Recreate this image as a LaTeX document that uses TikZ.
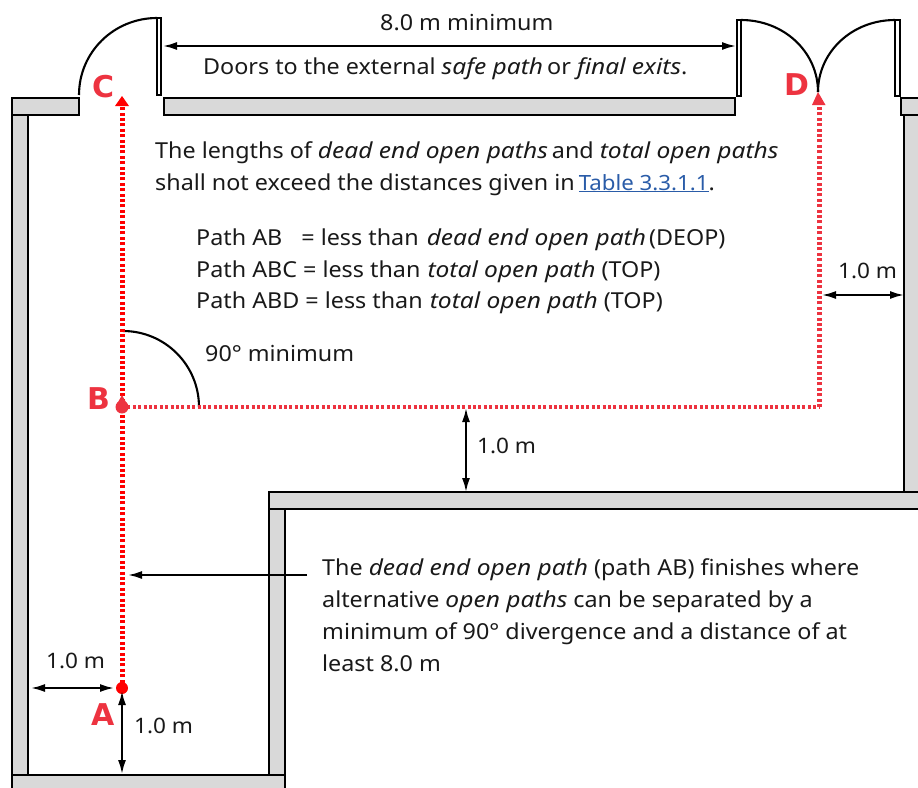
\documentclass[tikz,border=0pt]{standalone}
\usepackage{fontspec}
\setmainfont{Noto Sans}[FakeStretch=1.06,ItalicFeatures={FakeStretch=1.115}]
\newfontfamily\letterfont{DejaVu Sans Bold}
\usetikzlibrary{arrows.meta}
\definecolor{wallgrey}{HTML}{D9D9D9}
\definecolor{pathred}{HTML}{FF0000}
\definecolor{pathrose}{HTML}{ED3340}
\definecolor{linkblue}{HTML}{2A5CA8}
\tikzset{
  wall/.style={draw=black,fill=wallgrey,line width=2.8pt,line join=miter},
  doorleaf/.style={draw=black,fill=white,line width=1.8pt},
  swing/.style={draw=black,line width=2.1pt},
  dim/.style={draw=black,line width=2pt,{Latex[length=14pt,width=8pt]}-{Latex[length=14pt,width=8pt]}},
  lead/.style={draw=black,line width=2pt,-{Latex[length=14pt,width=8pt]}},
  walkv/.style={line width=5pt,dash pattern=on 3pt off 2.4pt},
  walkh/.style={line width=4.6pt,dash pattern=on 3pt off 2.4pt},
  txt/.style={anchor=base west,inner sep=0pt,font=\fontsize{22}{26}\selectfont,text=black!90},
  dimtxt/.style={txt,font=\fontsize{21.3}{26}\selectfont},
  letter/.style={anchor=base west,inner sep=0pt,font=\letterfont\fontsize{30}{34}\selectfont,text=pathrose}
}
\begin{document}
\begin{tikzpicture}[x=1pt,y=-1pt]
\useasboundingbox (0,0) rectangle (918,787);
% walls
\draw[wall] (12,115) rectangle (28,775);
\draw[wall] (12,98) rectangle (79,115);
\draw[wall] (164,98) rectangle (735,115);
\draw[wall] (269,509) rectangle (285,775);
\draw[wall] (269,492) rectangle (930,509);
\draw[wall] (904,115) rectangle (930,492);
\draw[wall] (901,98) rectangle (930,115);
\draw[wall] (12,775) rectangle (285,800);
% doors
\draw[doorleaf] (157,18) rectangle (161,95);
\draw[doorleaf] (737,20) rectangle (741,96);
\draw[doorleaf] (895,20) rectangle (900,96);
\coordinate (cL) at (79,95);
\coordinate (cT) at (157,18);
\coordinate (dL) at (741,20);
\coordinate (dM) at (818,92);
\coordinate (dR) at (895,20);
\draw[swing] (cL) .. controls (79,52) and (114,18) .. (cT);
\draw[swing] (dL) .. controls (784,20) and (818,52) .. (dM);
\draw[swing] (dR) .. controls (852,20) and (818,52) .. (dM);
% path points
\coordinate (A) at (122,688);
\coordinate (B) at (122,407);
\coordinate (C) at (122,96);
\coordinate (E) at (820,407);
\coordinate (F) at (819,407);
\coordinate (D) at (818,92);
\coordinate (Cs) at (122,107);
\coordinate (Ds) at (819,104);
% angle arc
\coordinate (q1) at (123,331);
\coordinate (q2) at (199,407);
\draw[swing] (q1) .. controls (165,331) and (199,365) .. (q2);
% walking paths
\draw[walkv,draw=pathred] (A) -- (Cs);
\draw[walkh,draw=pathrose] (B) -- (E);
\draw[walkv,draw=pathrose] (F) -- (Ds);
\fill[pathred] (C) -- (129,106) -- (115,106) -- cycle;
\fill[pathrose] (D) -- (825.5,105) -- (812,105) -- cycle;
\fill[pathred] (A) circle (6);
\fill[pathrose] (B) circle (6.5);
\fill[pathrose] (B) ++(-5,-3) -- ++(5,-9) -- ++(5,9) -- cycle;
% dimensions
\coordinate (t1) at (163,46); \coordinate (t2) at (736,46);
\coordinate (r1) at (822,295); \coordinate (r2) at (904,295);
\coordinate (m1) at (466,408); \coordinate (m2) at (466,492);
\coordinate (l1) at (31,688); \coordinate (l2) at (114,688);
\coordinate (v1) at (122,691); \coordinate (v2) at (122,774);
\coordinate (n1) at (307,575); \coordinate (n2) at (128,575);
\draw[dim] (t1) -- (t2);
\draw[dim] (r1) -- (r2);
\draw[dim] (m1) -- (m2);
\draw[dim] (l1) -- (l2);
\draw[dim] (v1) -- (v2);
\draw[lead] (n1) -- (n2);
% letters
\node[letter] (lc) at (92,97) {C};
\node[letter] (ld) at (784,95) {D};
\node[letter] (lb) at (87,409) {B};
\node[letter] (la) at (91,725) {A};
% texts
\node[txt] (t01) at (380,30) {8.0 m minimum};
\node[txt] (t02) at (203,74) {Doors to the external \textit{safe path}\hspace{-2pt} or \textit{final exits}.};
\node[txt] (t03) at (155,158) {The lengths of \textit{dead end open paths}\hspace{-2pt} and \textit{total open paths}};
\node[txt] (t04) at (155,190) {shall not exceed the distances given in\hspace{-2pt} \textcolor{linkblue}{\underline{\fontsize{21}{26}\selectfont Table 3.3.1.1}}.};
\node[txt] (t05) at (196,245) {Path AB\hspace{13pt} = less than\hspace{2pt} \textit{dead end open path}\hspace{-3pt} (DEOP)};
\node[txt] (t06) at (196,277) {Path ABC = less than\hspace{1pt} \textit{total open path} (TOP)};
\node[txt] (t07) at (196,308) {Path ABD = less than\hspace{1pt} \textit{total open path} (TOP)};
\node[txt] (t08) at (205,361) {90° minimum};
\node[dimtxt] (t09) at (838,278) {1.0 m};
\node[dimtxt] (t10) at (477,453) {1.0 m};
\node[txt] (t11) at (322,575) {The \textit{dead end open path} (path AB) finishes where};
\node[txt] (t12) at (322,607) {alternative \textit{open paths} can be separated by a};
\node[txt] (t13) at (322,639) {minimum of 90° divergence and a distance of at};
\node[txt] (t14) at (322,671) {least 8.0 m};
\node[dimtxt] (t15) at (46,668) {1.0 m};
\node[dimtxt] (t16) at (134,733) {1.0 m};
\end{tikzpicture}
\end{document}
